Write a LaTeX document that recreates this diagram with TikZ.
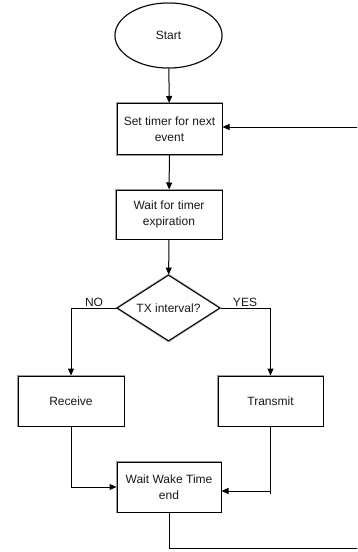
\documentclass[tikz,border=0pt]{standalone}
\usepackage{fontspec}
\setmainfont{Liberation Sans}
\usetikzlibrary{shapes.geometric,arrows.meta,backgrounds}
\begin{document}
\begin{tikzpicture}[x=1pt,y=-1pt,
  every node/.style={font=\fontsize{12}{16.5}\selectfont, text=black!90},
  procbox/.style={draw, line width=1pt, fill=white, align=center, inner sep=2pt},
  termin/.style={draw, ellipse, line width=1pt, fill=white, inner sep=0pt},
  decis/.style={draw, diamond, line width=1pt, fill=white, inner sep=0pt, aspect=1.56},
  conn/.style={line width=1pt, -{Triangle[length=7pt,width=6pt]}},
  plainln/.style={line width=1pt},
  shadc/.style={fill=black!38, draw=black!38, line width=1.5pt},
  lbl/.style={font=\fontsize{12}{13}\selectfont}
]
\useasboundingbox (0,0) rectangle (357,552);
\node[termin, minimum width=107pt, minimum height=65pt] (start) at (168.5,35.5) {Start};
\node[procbox, minimum width=105pt, minimum height=51pt] (set) at (169.5,129) {Set timer for next\\event};
\node[procbox, minimum width=106pt, minimum height=49pt] (wait) at (169,214.5) {Wait for timer\\expiration};
\node[decis, minimum width=103pt, minimum height=66pt] (dia) at (168.5,308) {TX interval?};
\node[procbox, minimum width=106pt, minimum height=50pt] (recv) at (71,401) {Receive};
\node[procbox, minimum width=105pt, minimum height=50pt] (tx) at (270.5,401) {Transmit};
\node[procbox, minimum width=104pt, minimum height=50pt] (wwt) at (169,487) {Wait Wake Time\\end};
\node[lbl] (no) at (94,302) {NO};
\node[lbl] (yes) at (245,302) {YES};
\begin{scope}[on background layer, shift={(0.8,2.3)}]
\foreach \n in {set,wait,recv,tx,wwt}
  \filldraw[shadc] (\n.north west) rectangle (\n.south east);
\filldraw[shadc] (start.center) ellipse [x radius=53.5, y radius=32.5];
\filldraw[shadc] (dia.north) -- (dia.east) -- (dia.south) -- (dia.west) -- cycle;
\end{scope}
\coordinate (c1) at (169,548);
\coordinate (c2) at (370,548);
\coordinate (c3) at (370,127);
\coordinate (c4) at (270.5,491);
\coordinate (c5) at (270.5,494);
\begin{scope}
\clip (0,0) rectangle (357,552);
\draw[conn] (start) -- (set);
\draw[conn] (set) -- (wait);
\draw[conn] (wait) -- (dia);
\draw[conn] (dia.west) -| (recv.north);
\draw[conn] (dia.east) -| (tx.north);
\draw[conn] (recv.south) |- (wwt.west);
\draw[plainln] (tx.south) -- (c5);
\draw[conn] (c4) -- (c4 -| wwt.east);
\draw[plainln] (wwt.south) -- (c1) -- (c2) -- (c3);
\draw[conn] (c3) -- (c3 -| set.east);
\end{scope}
\end{tikzpicture}
\end{document}
